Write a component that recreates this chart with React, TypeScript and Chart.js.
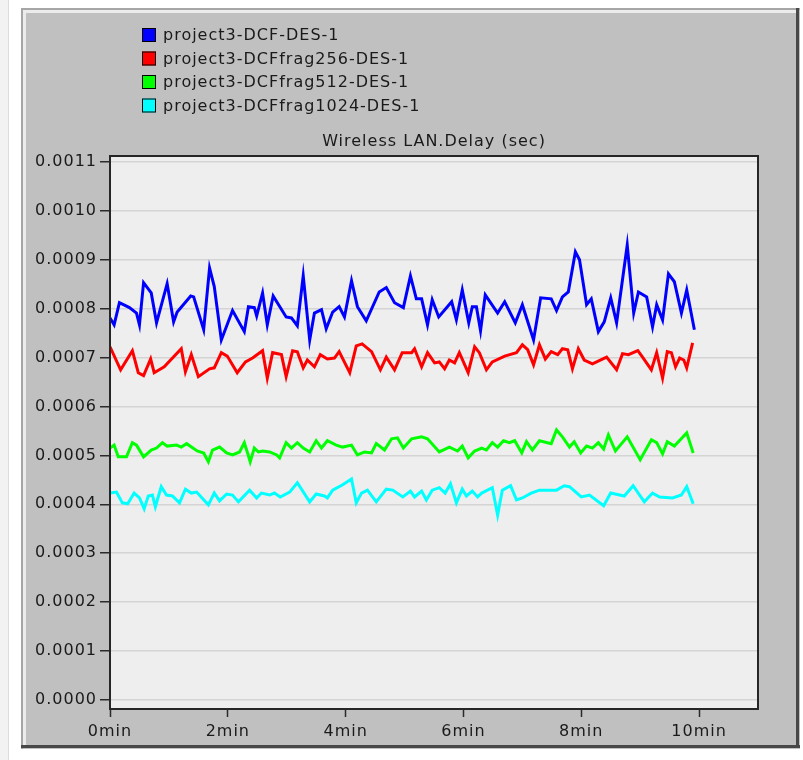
import { useEffect, useRef } from "react";
import { Chart, registerables } from "chart.js";

Chart.register(...registerables);

const seriesNames = [
  "project3-DCF-DES-1",
  "project3-DCFfrag256-DES-1",
  "project3-DCFfrag512-DES-1",
  "project3-DCFfrag1024-DES-1",
];
const seriesColors = ["#0000ff", "#ff0000", "#00ff00", "#00ffff"];
const chartTitle = "Wireless LAN.Delay (sec)";

const xTickValues = [0, 2, 4, 6, 8, 10];
const xTickLabels = ["0min", "2min", "4min", "6min", "8min", "10min"];
const yTickValues = [0, 0.0001, 0.0002, 0.0003, 0.0004, 0.0005, 0.0006, 0.0007, 0.0008, 0.0009, 0.001, 0.0011];
const yTickLabels = ["0.0000", "0.0001", "0.0002", "0.0003", "0.0004", "0.0005", "0.0006", "0.0007", "0.0008", "0.0009", "0.0010", "0.0011"];

// times in minutes
const dcfTimes = [0.00, 0.07, 0.16, 0.33, 0.45, 0.50, 0.57, 0.70, 0.79, 0.97, 1.08, 1.14, 1.37, 1.42, 1.59, 1.69, 1.77, 1.89, 2.08, 2.28, 2.35, 2.45, 2.49, 2.59, 2.67, 2.77, 2.99, 3.08, 3.18, 3.28, 3.39, 3.47, 3.59, 3.67, 3.78, 3.89, 3.98, 4.10, 4.20, 4.35, 4.57, 4.69, 4.83, 4.98, 5.10, 5.20, 5.29, 5.39, 5.47, 5.58, 5.80, 5.88, 5.98, 6.09, 6.15, 6.22, 6.29, 6.37, 6.58, 6.70, 6.88, 7.00, 7.19, 7.31, 7.49, 7.58, 7.68, 7.78, 7.90, 7.97, 8.09, 8.17, 8.29, 8.39, 8.50, 8.60, 8.78, 8.89, 8.97, 9.11, 9.21, 9.28, 9.38, 9.48, 9.58, 9.70, 9.79, 9.92];
const dcfDelay = [0.000781, 0.000767, 0.000812, 0.000802, 0.000791, 0.000767, 0.000853, 0.000832, 0.000771, 0.000851, 0.000773, 0.000793, 0.000826, 0.000824, 0.000757, 0.000883, 0.000845, 0.000736, 0.000796, 0.000753, 0.000804, 0.000802, 0.000785, 0.000832, 0.000767, 0.000826, 0.000783, 0.000781, 0.000765, 0.000867, 0.000736, 0.000791, 0.000798, 0.000759, 0.000793, 0.000804, 0.000783, 0.000857, 0.000804, 0.000775, 0.000834, 0.000843, 0.000812, 0.000802, 0.000867, 0.000820, 0.000820, 0.000767, 0.000818, 0.000783, 0.000814, 0.000777, 0.000838, 0.000771, 0.000804, 0.000804, 0.000755, 0.000828, 0.000791, 0.000814, 0.000771, 0.000808, 0.000736, 0.000822, 0.000820, 0.000796, 0.000824, 0.000834, 0.000916, 0.000900, 0.000808, 0.000820, 0.000753, 0.000773, 0.000822, 0.000771, 0.000930, 0.000791, 0.000834, 0.000824, 0.000763, 0.000808, 0.000777, 0.000871, 0.000855, 0.000791, 0.000838, 0.000757];

const frag256Times = [0.00, 0.18, 0.38, 0.48, 0.57, 0.69, 0.75, 0.92, 1.21, 1.28, 1.38, 1.50, 1.69, 1.77, 1.89, 1.99, 2.16, 2.30, 2.42, 2.59, 2.67, 2.76, 2.91, 2.99, 3.10, 3.18, 3.28, 3.35, 3.47, 3.57, 3.69, 3.81, 3.89, 4.07, 4.18, 4.28, 4.44, 4.59, 4.69, 4.83, 4.96, 5.12, 5.17, 5.29, 5.39, 5.51, 5.59, 5.68, 5.76, 5.85, 5.93, 6.08, 6.19, 6.27, 6.39, 6.49, 6.70, 6.90, 7.00, 7.09, 7.19, 7.29, 7.39, 7.49, 7.60, 7.68, 7.77, 7.85, 7.95, 8.05, 8.19, 8.43, 8.60, 8.70, 8.80, 8.96, 9.04, 9.19, 9.28, 9.38, 9.46, 9.53, 9.60, 9.67, 9.74, 9.79, 9.89];
const frag256Delay = [0.000722, 0.000675, 0.000714, 0.000669, 0.000663, 0.000697, 0.000669, 0.000681, 0.000718, 0.000671, 0.000706, 0.000661, 0.000677, 0.000679, 0.000710, 0.000703, 0.000669, 0.000691, 0.000699, 0.000714, 0.000658, 0.000710, 0.000706, 0.000661, 0.000714, 0.000712, 0.000679, 0.000695, 0.000681, 0.000706, 0.000697, 0.000699, 0.000712, 0.000669, 0.000724, 0.000728, 0.000712, 0.000675, 0.000701, 0.000675, 0.000710, 0.000710, 0.000718, 0.000681, 0.000710, 0.000689, 0.000691, 0.000677, 0.000695, 0.000689, 0.000710, 0.000669, 0.000722, 0.000710, 0.000675, 0.000691, 0.000703, 0.000710, 0.000726, 0.000716, 0.000685, 0.000726, 0.000697, 0.000712, 0.000706, 0.000718, 0.000716, 0.000677, 0.000718, 0.000695, 0.000687, 0.000701, 0.000675, 0.000708, 0.000706, 0.000714, 0.000701, 0.000675, 0.000710, 0.000658, 0.000712, 0.000710, 0.000681, 0.000699, 0.000695, 0.000679, 0.000730];

const frag512Times = [0.00, 0.07, 0.14, 0.28, 0.38, 0.45, 0.57, 0.70, 0.79, 0.89, 0.97, 1.13, 1.21, 1.30, 1.48, 1.59, 1.67, 1.74, 1.86, 1.98, 2.08, 2.20, 2.28, 2.33, 2.38, 2.45, 2.52, 2.59, 2.71, 2.83, 2.88, 2.99, 3.08, 3.18, 3.28, 3.39, 3.50, 3.59, 3.69, 3.84, 3.95, 4.10, 4.20, 4.32, 4.44, 4.52, 4.66, 4.78, 4.88, 4.98, 5.12, 5.29, 5.39, 5.59, 5.76, 5.90, 5.98, 6.08, 6.19, 6.31, 6.39, 6.49, 6.58, 6.68, 6.78, 6.87, 6.99, 7.07, 7.17, 7.29, 7.49, 7.58, 7.68, 7.80, 7.88, 7.99, 8.09, 8.19, 8.29, 8.38, 8.46, 8.58, 8.78, 9.00, 9.19, 9.28, 9.38, 9.46, 9.58, 9.79, 9.90];
const frag512Delay = [0.000515, 0.000521, 0.000497, 0.000497, 0.000526, 0.000521, 0.000497, 0.000511, 0.000515, 0.000526, 0.000519, 0.000521, 0.000517, 0.000524, 0.000509, 0.000505, 0.000487, 0.000511, 0.000517, 0.000505, 0.000501, 0.000507, 0.000526, 0.000507, 0.000487, 0.000515, 0.000507, 0.000509, 0.000507, 0.000501, 0.000495, 0.000526, 0.000515, 0.000526, 0.000515, 0.000507, 0.000530, 0.000515, 0.000530, 0.000521, 0.000517, 0.000521, 0.000501, 0.000507, 0.000505, 0.000524, 0.000511, 0.000534, 0.000536, 0.000515, 0.000534, 0.000538, 0.000534, 0.000507, 0.000517, 0.000509, 0.000519, 0.000495, 0.000509, 0.000515, 0.000511, 0.000526, 0.000517, 0.000530, 0.000526, 0.000530, 0.000505, 0.000528, 0.000511, 0.000530, 0.000524, 0.000552, 0.000538, 0.000517, 0.000528, 0.000505, 0.000519, 0.000515, 0.000526, 0.000513, 0.000542, 0.000509, 0.000538, 0.000491, 0.000532, 0.000526, 0.000503, 0.000528, 0.000519, 0.000546, 0.000505];

const frag1024Times = [0.00, 0.11, 0.21, 0.30, 0.41, 0.50, 0.58, 0.65, 0.72, 0.77, 0.87, 0.96, 1.06, 1.18, 1.28, 1.38, 1.47, 1.67, 1.77, 1.86, 1.98, 2.08, 2.18, 2.37, 2.49, 2.57, 2.71, 2.79, 2.89, 3.05, 3.18, 3.39, 3.50, 3.64, 3.69, 3.78, 3.95, 4.10, 4.18, 4.27, 4.37, 4.52, 4.69, 4.80, 4.97, 5.10, 5.17, 5.29, 5.37, 5.47, 5.59, 5.69, 5.78, 5.88, 5.98, 6.05, 6.15, 6.24, 6.31, 6.49, 6.58, 6.66, 6.80, 6.90, 7.00, 7.15, 7.29, 7.58, 7.71, 7.80, 8.00, 8.14, 8.38, 8.50, 8.73, 8.88, 9.07, 9.21, 9.33, 9.55, 9.70, 9.79, 9.90];
const frag1024Delay = [0.000423, 0.000425, 0.000403, 0.000401, 0.000423, 0.000413, 0.000391, 0.000417, 0.000419, 0.000395, 0.000436, 0.000419, 0.000417, 0.000403, 0.000431, 0.000423, 0.000425, 0.000399, 0.000423, 0.000407, 0.000421, 0.000419, 0.000405, 0.000429, 0.000413, 0.000423, 0.000419, 0.000423, 0.000415, 0.000425, 0.000444, 0.000405, 0.000421, 0.000417, 0.000413, 0.000429, 0.000440, 0.000452, 0.000403, 0.000423, 0.000429, 0.000405, 0.000431, 0.000429, 0.000415, 0.000427, 0.000415, 0.000427, 0.000409, 0.000429, 0.000434, 0.000423, 0.000442, 0.000403, 0.000431, 0.000417, 0.000427, 0.000415, 0.000423, 0.000434, 0.000378, 0.000429, 0.000438, 0.000409, 0.000413, 0.000423, 0.000429, 0.000429, 0.000438, 0.000436, 0.000415, 0.000419, 0.000397, 0.000423, 0.000417, 0.000438, 0.000405, 0.000423, 0.000415, 0.000413, 0.000419, 0.000436, 0.000401];

const seriesTimes = [dcfTimes, frag256Times, frag512Times, frag1024Times];
const seriesDelays = [dcfDelay, frag256Delay, frag512Delay, frag1024Delay];

const FONT_FAMILY = '"DejaVu Sans", Verdana, sans-serif';
const TEXT_COLOR = "#1a1a1a";

const framePlugin = {
  id: "opnetFrame",
  beforeDraw(chart: any) {
    const ctx = chart.ctx as CanvasRenderingContext2D;
    const W = chart.width;
    const H = chart.height;
    const a = chart.chartArea;
    ctx.save();
    ctx.fillStyle = "#ffffff";
    ctx.fillRect(0, 0, W, H);
    ctx.fillStyle = "#f2f2f2";
    ctx.fillRect(0, 0, 8, H);
    ctx.fillStyle = "#dcdcdc";
    ctx.fillRect(8, 0, 1, H);
    // panel
    ctx.fillStyle = "#c0c0c0";
    ctx.fillRect(21, 8, 779, 741);
    ctx.fillStyle = "#a6a6a6";
    ctx.fillRect(21, 8, 779, 2);
    ctx.fillRect(21, 8, 2, 741);
    ctx.fillStyle = "#ececec";
    ctx.fillRect(23, 10, 773, 3);
    ctx.fillRect(23, 10, 3, 735);
    ctx.fillStyle = "#484848";
    ctx.fillRect(21, 745, 779, 3);
    ctx.fillRect(796, 8, 3, 740);
    // plot background
    ctx.fillStyle = "#eeeeee";
    ctx.fillRect(a.left, a.top, a.right - a.left, a.bottom - a.top);
    ctx.restore();
    (ctx as any).letterSpacing = "1px";
  },
  afterDraw(chart: any) {
    const ctx = chart.ctx as CanvasRenderingContext2D;
    const a = chart.chartArea;
    ctx.save();
    (ctx as any).letterSpacing = "1px";
    // plot frame
    ctx.strokeStyle = "#262626";
    ctx.lineWidth = 2;
    ctx.strokeRect(a.left, a.top, a.right - a.left, a.bottom - a.top);
    // title
    ctx.font = `16px ${FONT_FAMILY}`;
    ctx.fillStyle = TEXT_COLOR;
    ctx.textAlign = "center";
    ctx.textBaseline = "middle";
    ctx.fillText(chartTitle, (a.left + a.right) / 2, a.top - 14);
    // legend
    ctx.textAlign = "left";
    seriesNames.forEach((name, i) => {
      const cy = 35 + i * 23.5;
      ctx.fillStyle = seriesColors[i];
      ctx.fillRect(142, cy - 7, 14, 14);
      ctx.strokeStyle = "#000000";
      ctx.lineWidth = 1;
      ctx.strokeRect(142.5, cy - 6.5, 13, 13);
      ctx.fillStyle = TEXT_COLOR;
      ctx.fillText(name, 163, cy + 1);
    });
    ctx.restore();
  },
};

export default function App() {
  const canvasRef = useRef<HTMLCanvasElement | null>(null);

  useEffect(() => {
    document.body.style.margin = "0";
    const canvas = canvasRef.current;
    if (!canvas) return;
    const datasets = seriesNames.map((name, i) => ({
      label: name,
      data: seriesTimes[i].map((t, j) => ({ x: t, y: seriesDelays[i][j] })),
      borderColor: seriesColors[i],
      backgroundColor: seriesColors[i],
      borderWidth: 3,
      pointRadius: 0,
      tension: 0,
      fill: false,
    }));
    const chart = new Chart(canvas, {
      type: "line",
      data: { datasets },
      plugins: [framePlugin],
      options: {
        responsive: false,
        animation: false,
        devicePixelRatio: 1,
        layout: { padding: { top: 156, right: 45, left: 0, bottom: 0 } },
        plugins: {
          legend: { display: false },
          title: { display: false },
          tooltip: { enabled: false },
        },
        scales: {
          x: {
            type: "linear",
            min: 0,
            max: 11,
            afterFit: (scale: any) => {
              scale.height = 51;
            },
            afterBuildTicks: (scale: any) => {
              scale.ticks = xTickValues.map((v) => ({ value: v }));
            },
            grid: {
              drawOnChartArea: false,
              drawTicks: true,
              tickLength: 8,
              tickColor: "#2a2a2a",
              tickWidth: 1.5,
            },
            border: { display: false },
            ticks: {
              autoSkip: false,
              maxRotation: 0,
              padding: 5,
              color: TEXT_COLOR,
              font: { family: FONT_FAMILY, size: 16 },
              callback: (value: any) => {
                const idx = xTickValues.indexOf(Number(value));
                return idx >= 0 ? xTickLabels[idx] : "";
              },
            },
          },
          y: {
            type: "linear",
            min: -0.0000184,
            max: 0.001112,
            afterFit: (scale: any) => {
              scale.width = 110;
            },
            afterBuildTicks: (scale: any) => {
              scale.ticks = yTickValues.map((v) => ({ value: v }));
            },
            grid: {
              color: "#d4d4d4",
              lineWidth: 1.5,
              drawTicks: true,
              tickLength: 10,
              tickColor: "#2a2a2a",
              tickWidth: 1.5,
            },
            border: { display: false },
            ticks: {
              autoSkip: false,
              padding: 3,
              color: TEXT_COLOR,
              font: { family: FONT_FAMILY, size: 16 },
              callback: (value: any) => {
                const idx = yTickValues.findIndex((v) => Math.abs(v - Number(value)) < 1e-9);
                return idx >= 0 ? yTickLabels[idx] : "";
              },
            },
          },
        },
      },
    });
    return () => {
      chart.destroy();
    };
  }, []);

  return (
    <div style={{ width: 803, height: 760, position: "relative", background: "#ffffff" }}>
      <canvas ref={canvasRef} width={803} height={760} style={{ display: "block" }} />
    </div>
  );
}
